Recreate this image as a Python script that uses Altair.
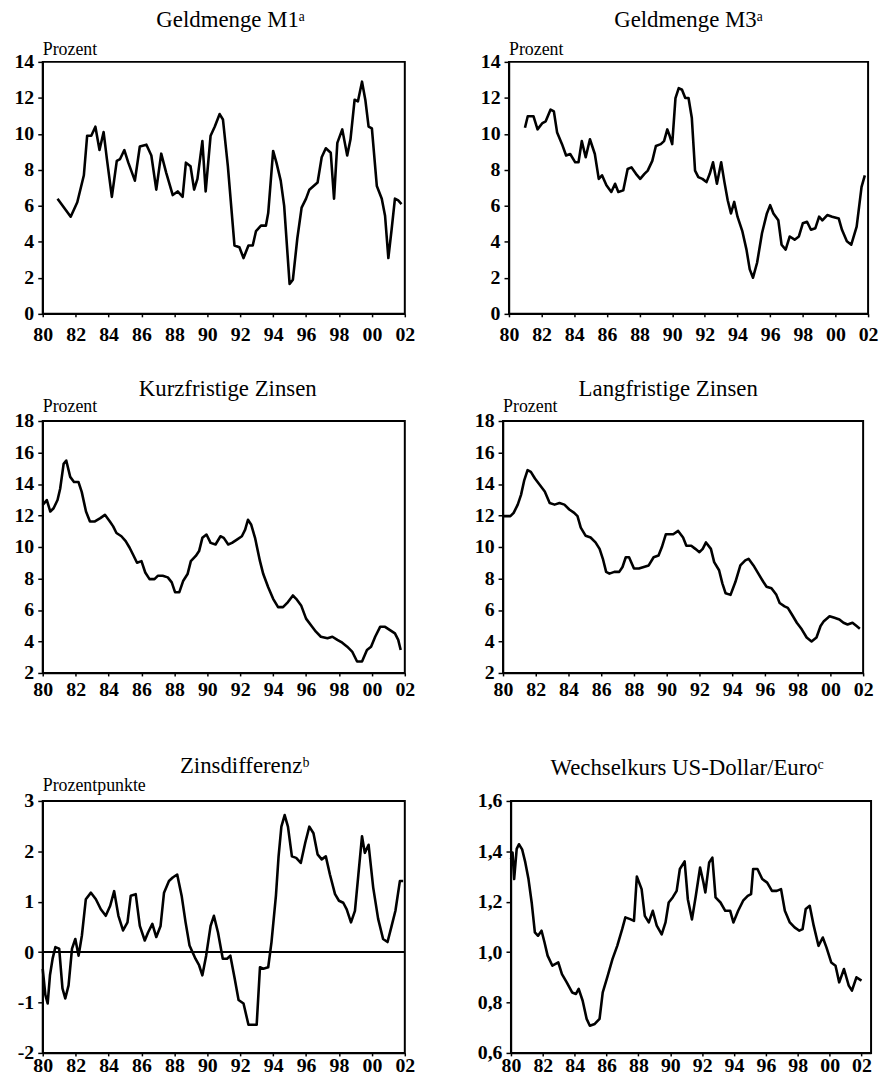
import altair as alt
import pandas as pd

FONT = "Liberation Serif"

# ---------------- data (years as 2-digit offsets from 1900) ----------------
m1_year = [80.9, 81.7, 82.1, 82.5, 82.7, 82.95, 83.2, 83.45, 83.7, 83.9,
           84.2, 84.5, 84.7, 84.96, 85.2, 85.6, 85.9, 86.3, 86.6, 86.9,
           87.2, 87.5, 87.9, 88.2, 88.5, 88.7, 88.98, 89.2, 89.4, 89.7,
           89.9, 90.2, 90.45, 90.75, 90.95, 91.25, 91.65, 91.95, 92.2, 92.5,
           92.76, 92.96, 93.26, 93.56, 93.7, 94.0, 94.2, 94.46, 94.67, 95.0,
           95.2, 95.47, 95.73, 96.0, 96.2, 96.7, 96.95, 97.2, 97.5, 97.7,
           97.9, 98.2, 98.5, 98.7, 98.95, 99.15, 99.4, 99.6, 99.8, 100.0,
           100.3, 100.6, 100.8, 101.0, 101.2, 101.4, 101.6, 101.8]
m1_value = [6.4, 5.4, 6.2, 7.7, 9.9, 9.9, 10.4, 9.1, 10.1, 8.6,
            6.5, 8.5, 8.6, 9.1, 8.4, 7.4, 9.3, 9.4, 8.8, 6.9,
            8.9, 7.85, 6.6, 6.8, 6.5, 8.4, 8.2, 6.9, 7.5, 9.6,
            6.8, 9.9, 10.4, 11.1, 10.8, 8.2, 3.8, 3.7, 3.1, 3.8,
            3.8, 4.6, 4.9, 4.9, 5.6, 9.05, 8.4, 7.4, 6.0, 1.66,
            1.9, 4.2, 5.9, 6.4, 6.9, 7.3, 8.7, 9.2, 8.95, 6.4,
            9.5, 10.25, 8.8, 9.7, 11.9, 11.8, 12.9, 11.9, 10.4, 10.3,
            7.1, 6.4, 5.45, 3.1, 4.7, 6.4, 6.3, 6.1]

m3_year = [80.98, 81.15, 81.5, 81.75, 82.05, 82.25, 82.55, 82.75, 82.95, 83.25,
           83.5, 83.75, 84.06, 84.26, 84.46, 84.7, 84.96, 85.26, 85.5, 85.7,
           85.97, 86.27, 86.5, 86.7, 87.0, 87.27, 87.5, 87.78, 88.04, 88.3,
           88.5, 88.78, 89.0, 89.3, 89.5, 89.7, 89.85, 90.0, 90.2, 90.4,
           90.6, 90.8, 91.0, 91.2, 91.4, 91.6, 91.85, 92.1, 92.3, 92.5,
           92.74, 93.0, 93.2, 93.4, 93.6, 93.8, 94.0, 94.3, 94.55, 94.75,
           94.95, 95.2, 95.5, 95.8, 96.0, 96.2, 96.5, 96.7, 96.95, 97.2,
           97.5, 97.76, 98.0, 98.26, 98.5, 98.77, 99.0, 99.2, 99.5, 99.8,
           100.2, 100.4, 100.7, 100.97, 101.3, 101.6, 101.8]
m3_value = [10.34, 10.98, 10.98, 10.25, 10.6, 10.7, 11.35, 11.25, 10.07, 9.43,
            8.8, 8.88, 8.42, 8.42, 9.6, 8.7, 9.7, 8.88, 7.5, 7.7,
            7.14, 6.77, 7.23, 6.77, 6.86, 8.05, 8.14, 7.78, 7.5, 7.78,
            7.96, 8.5, 9.33, 9.43, 9.6, 10.25, 9.88, 9.43, 11.99, 12.54,
            12.45, 11.99, 11.99, 10.9, 7.96, 7.6, 7.5, 7.32, 7.78, 8.42,
            7.23, 8.42, 7.32, 6.31, 5.58, 6.22, 5.4, 4.58, 3.57, 2.47,
            2.01, 2.84, 4.48, 5.58, 6.04, 5.58, 5.2, 3.84, 3.57, 4.3,
            4.12, 4.3, 5.03, 5.12, 4.67, 4.76, 5.4, 5.2, 5.49, 5.4,
            5.3, 4.67, 4.03, 3.84, 4.85, 7.05, 7.69]

short_year = [80.0, 80.25, 80.46, 80.66, 80.9, 81.06, 81.27, 81.43, 81.67, 81.9,
              82.17, 82.37, 82.63, 82.87, 83.17, 83.5, 83.78, 84.08, 84.28, 84.48,
              84.78, 85.04, 85.28, 85.53, 85.73, 86.0, 86.23, 86.49, 86.79, 86.99,
              87.29, 87.6, 87.84, 88.04, 88.3, 88.54, 88.8, 89.0, 89.3, 89.5,
              89.7, 89.95, 90.2, 90.5, 90.8, 91.0, 91.27, 91.5, 91.8, 92.1,
              92.3, 92.47, 92.67, 92.9, 93.2, 93.4, 93.7, 94.0, 94.3, 94.6,
              94.9, 95.2, 95.4, 95.7, 96.0, 96.3, 96.6, 96.9, 97.3, 97.6,
              97.9, 98.2, 98.5, 98.8, 99.1, 99.4, 99.7, 99.95, 100.2, 100.5,
              100.8, 101.1, 101.4, 101.6, 101.75]
short_value = [12.67, 12.98, 12.25, 12.46, 12.98, 13.7, 15.28, 15.49, 14.45, 14.13,
               14.13, 13.5, 12.25, 11.62, 11.62, 11.83, 12.04, 11.62, 11.31, 10.89,
               10.68, 10.37, 9.95, 9.43, 9.0, 9.1, 8.38, 7.96, 7.96, 8.17,
               8.17, 8.07, 7.75, 7.13, 7.13, 7.86, 8.28, 9.1, 9.43, 9.74,
               10.58, 10.79, 10.26, 10.16, 10.68, 10.58, 10.16, 10.26, 10.47, 10.68,
               11.1, 11.73, 11.41, 10.58, 9.1, 8.28, 7.44, 6.71, 6.18, 6.18,
               6.5, 6.92, 6.71, 6.29, 5.45, 5.03, 4.62, 4.3, 4.2, 4.3,
               4.1, 3.92, 3.67, 3.36, 2.73, 2.73, 3.46, 3.67, 4.3, 4.93,
               4.93, 4.72, 4.51, 4.1, 3.46]

long_year = [80.05, 80.45, 80.65, 80.9, 81.1, 81.3, 81.5, 81.7, 81.95, 82.25,
             82.55, 82.85, 83.15, 83.45, 83.75, 84.05, 84.35, 84.55, 84.75, 85.05,
             85.35, 85.65, 85.9, 86.1, 86.3, 86.5, 86.8, 87.1, 87.3, 87.5,
             87.7, 88.0, 88.3, 88.6, 88.9, 89.2, 89.5, 89.7, 89.95, 90.2,
             90.4, 90.7, 91.0, 91.2, 91.5, 91.75, 92.0, 92.2, 92.4, 92.7,
             92.9, 93.2, 93.4, 93.6, 93.9, 94.2, 94.5, 94.8, 95.0, 95.3,
             95.6, 95.9, 96.1, 96.4, 96.7, 96.9, 97.2, 97.4, 97.65, 97.95,
             98.25, 98.55, 98.85, 99.15, 99.4, 99.6, 99.95, 100.25, 100.55, 100.8,
             101.05, 101.35, 101.6, 101.8]
long_value = [11.96, 11.96, 12.17, 12.69, 13.31, 14.25, 14.88, 14.77, 14.35, 13.94,
              13.52, 12.79, 12.69, 12.79, 12.69, 12.38, 12.17, 11.96, 11.23, 10.71,
              10.6, 10.29, 9.88, 9.25, 8.42, 8.31, 8.42, 8.42, 8.73, 9.35,
              9.35, 8.63, 8.63, 8.73, 8.83, 9.35, 9.46, 9.98, 10.81, 10.81,
              10.81, 11.02, 10.6, 10.08, 10.08, 9.88, 9.67, 9.88, 10.29, 9.88,
              9.04, 8.52, 7.69, 7.06, 6.96, 7.79, 8.83, 9.15, 9.25, 8.83,
              8.31, 7.79, 7.48, 7.38, 6.96, 6.44, 6.23, 6.13, 5.71, 5.19,
              4.77, 4.25, 4.0, 4.25, 4.98, 5.29, 5.6, 5.5, 5.4, 5.19,
              5.08, 5.19, 4.98, 4.81]

spread_year = [80.0, 80.16, 80.3, 80.44, 80.6, 80.77, 81.0, 81.2, 81.37, 81.57,
               81.78, 81.98, 82.18, 82.38, 82.62, 82.93, 83.23, 83.53, 83.83, 84.1,
               84.34, 84.6, 84.88, 85.15, 85.35, 85.65, 85.9, 86.2, 86.4, 86.66,
               86.9, 87.16, 87.37, 87.67, 87.9, 88.17, 88.44, 88.68, 88.92, 89.28,
               89.5, 89.7, 89.93, 90.2, 90.4, 90.65, 90.94, 91.2, 91.4, 91.66,
               91.9, 92.2, 92.5, 92.8, 93.0, 93.2, 93.4, 93.7, 93.9, 94.17,
               94.33, 94.5, 94.7, 94.9, 95.14, 95.4, 95.68, 95.95, 96.2, 96.45,
               96.7, 96.95, 97.2, 97.45, 97.76, 98.0, 98.26, 98.47, 98.73, 98.97,
               99.17, 99.4, 99.57, 99.8, 100.08, 100.38, 100.68, 100.95, 101.2, 101.43,
               101.7, 101.9]
spread_value = [-0.33, -0.85, -1.02, -0.46, -0.13, 0.1, 0.07, -0.72, -0.92, -0.66,
                0.07, 0.26, -0.07, 0.33, 1.05, 1.18, 1.05, 0.85, 0.72, 0.92,
                1.21, 0.72, 0.43, 0.59, 1.12, 1.15, 0.52, 0.23, 0.39, 0.56,
                0.3, 0.52, 1.18, 1.41, 1.48, 1.54, 1.12, 0.59, 0.13, -0.13,
                -0.26, -0.46, -0.07, 0.52, 0.72, 0.39, -0.13, -0.13, -0.07, -0.52,
                -0.95, -1.02, -1.44, -1.44, -1.44, -0.3, -0.33, -0.3, 0.2, 1.12,
                1.9, 2.49, 2.72, 2.49, 1.9, 1.87, 1.77, 2.17, 2.49, 2.36,
                1.94, 1.84, 1.9, 1.54, 1.15, 1.02, 0.98, 0.85, 0.59, 0.82,
                1.51, 2.3, 1.97, 2.13, 1.28, 0.66, 0.26, 0.2, 0.52, 0.82,
                1.41, 1.41]

fx_year = [80.0, 80.1, 80.2, 80.36, 80.5, 80.7, 80.9, 81.1, 81.3, 81.5,
           81.7, 81.92, 82.1, 82.3, 82.6, 82.97, 83.2, 83.5, 83.84, 84.08,
           84.25, 84.5, 84.75, 84.95, 85.26, 85.56, 85.76, 86.07, 86.37, 86.67,
           86.98, 87.18, 87.48, 87.72, 87.9, 88.2, 88.4, 88.65, 88.9, 89.15,
           89.46, 89.7, 89.9, 90.15, 90.4, 90.6, 90.9, 91.1, 91.36, 91.6,
           91.87, 92.08, 92.2, 92.44, 92.64, 92.84, 93.15, 93.45, 93.76, 93.96,
           94.26, 94.57, 94.86, 95.07, 95.2, 95.47, 95.77, 96.08, 96.38, 96.68,
           96.95, 97.19, 97.5, 97.8, 98.1, 98.3, 98.5, 98.75, 99.0, 99.3,
           99.57, 99.8, 100.1, 100.37, 100.6, 100.9, 101.2, 101.4, 101.68, 102.0]
fx_value = [1.369, 1.395, 1.29, 1.41, 1.428, 1.408, 1.356, 1.29, 1.197, 1.078,
            1.065, 1.085, 1.04, 0.986, 0.946, 0.959, 0.913, 0.88, 0.84, 0.834,
            0.854, 0.807, 0.735, 0.708, 0.715, 0.735, 0.84, 0.906, 0.972, 1.025,
            1.091, 1.138, 1.131, 1.124, 1.3, 1.25, 1.144, 1.118, 1.164, 1.105,
            1.07, 1.118, 1.197, 1.217, 1.243, 1.33, 1.36, 1.21, 1.13, 1.223,
            1.336, 1.276, 1.237, 1.356, 1.375, 1.217, 1.197, 1.164, 1.164, 1.118,
            1.164, 1.204, 1.223, 1.23, 1.33, 1.33, 1.29, 1.276, 1.243, 1.243,
            1.25, 1.164, 1.118, 1.098, 1.085, 1.091, 1.171, 1.184, 1.105, 1.025,
            1.058, 1.019, 0.959, 0.946, 0.88, 0.933, 0.867, 0.847, 0.9, 0.887]

x_ticks = list(range(1980, 2003, 2))


def panel(years, values, title, unit, domain, yticks, title_dx, title_y,
          unit_y=-7, ylabel_expr=None, zero=False, label_pad=5, width=365,
          height=254, min_extent=29, x_max=2002):
    df = pd.DataFrame({"year": [1900 + v for v in years], "value": values})
    xax = alt.Axis(values=x_ticks, title=None, grid=False, tickSize=3,
                   labelPadding=label_pad, labelFlush=False, labelOverlap=False,
                   labelExpr="substring(toString(datum.value), 2, 4)")
    ykw = dict(values=yticks, title=None, grid=False, tickSize=5, labelPadding=4,
               labelFlush=False, labelOverlap=False, minExtent=min_extent)
    if ylabel_expr:
        ykw["labelExpr"] = ylabel_expr
    x = alt.X("year:Q", scale=alt.Scale(domain=[1980, x_max], nice=False, zero=False),
              axis=xax)
    y = alt.Y("value:Q", scale=alt.Scale(domain=domain, nice=False, zero=False),
              axis=alt.Axis(**ykw))
    layers = []
    if zero:
        layers.append(alt.Chart(df).mark_rule(color="black", strokeWidth=1.5)
                      .encode(y=alt.datum(0)))
    layers.append(alt.Chart(df).mark_line(color="black", strokeWidth=2.6,
                                          strokeJoin="round").encode(x=x, y=y))
    layers.append(
        alt.Chart(pd.DataFrame({"t": [title]}))
        .mark_text(font=FONT, fontSize=23, align="center", baseline="alphabetic",
                   color="black")
        .encode(text="t:N", x=alt.value(width / 2 + title_dx), y=alt.value(title_y)))
    if unit:
        layers.append(
            alt.Chart(pd.DataFrame({"t": [unit]}))
            .mark_text(font=FONT, fontSize=18, align="left", baseline="alphabetic",
                       color="black")
            .encode(text="t:N", x=alt.value(0), y=alt.value(unit_y)))
    return alt.layer(*layers).properties(width=width, height=height)


p1 = panel(m1_year, m1_value, "Geldmenge M1ᵃ", "Prozent", [0, 14],
           list(range(0, 15, 2)), 7, -35, unit_y=-7, label_pad=8, min_extent=29)
p2 = panel(m3_year, m3_value, "Geldmenge M3ᵃ", "Prozent", [0, 14],
           list(range(0, 15, 2)), 0, -35, unit_y=-7, label_pad=8, min_extent=29,
           width=362)
p3 = panel(short_year, short_value, "Kurzfristige Zinsen", "Prozent", [2, 18],
           list(range(2, 19, 2)), 4, -25, unit_y=-9, label_pad=4, min_extent=34)
p4 = panel(long_year, long_value, "Langfristige Zinsen", "Prozent", [2, 18],
           list(range(2, 19, 2)), -15, -25, unit_y=-9, label_pad=4, width=363,
           min_extent=29)
p5 = panel(spread_year, spread_value, "Zinsdifferenzᵇ", "Prozentpunkte", [-2, 3],
           list(range(-2, 4)), 21, -28, unit_y=-10, zero=True, label_pad=0,
           ylabel_expr="toString(datum.value)", min_extent=34)
p6 = panel(fx_year, fx_value, "Wechselkurs US-Dollar/Euroᶜ", None, [0.6, 1.6],
           [0.6, 0.8, 1.0, 1.2, 1.4, 1.6], -4, -26, label_pad=0, width=363,
           ylabel_expr="replace(format(datum.value, '.1f'), '.', ',')", min_extent=36,
           x_max=2002.6)

row1 = alt.hconcat(p1, p2, spacing=64)
row2 = alt.hconcat(p3, p4, spacing=58)
row3 = alt.hconcat(p5, p6, spacing=59)

chart = alt.vconcat(row1, alt.vconcat(row2, row3, spacing=54), spacing=32).properties(
    padding={"left": 0, "top": -4, "right": 0, "bottom": 0}, background="white"
).configure(font=FONT).configure_view(
    stroke="black", strokeWidth=2
).configure_axis(
    domainColor="black", domainWidth=1.5, tickColor="black", tickWidth=1.5,
    labelFont=FONT, labelFontSize=20, labelFontWeight="bold", labelColor="black"
)

chart.save("out.html", embed_options={"renderer": "svg", "actions": False})
